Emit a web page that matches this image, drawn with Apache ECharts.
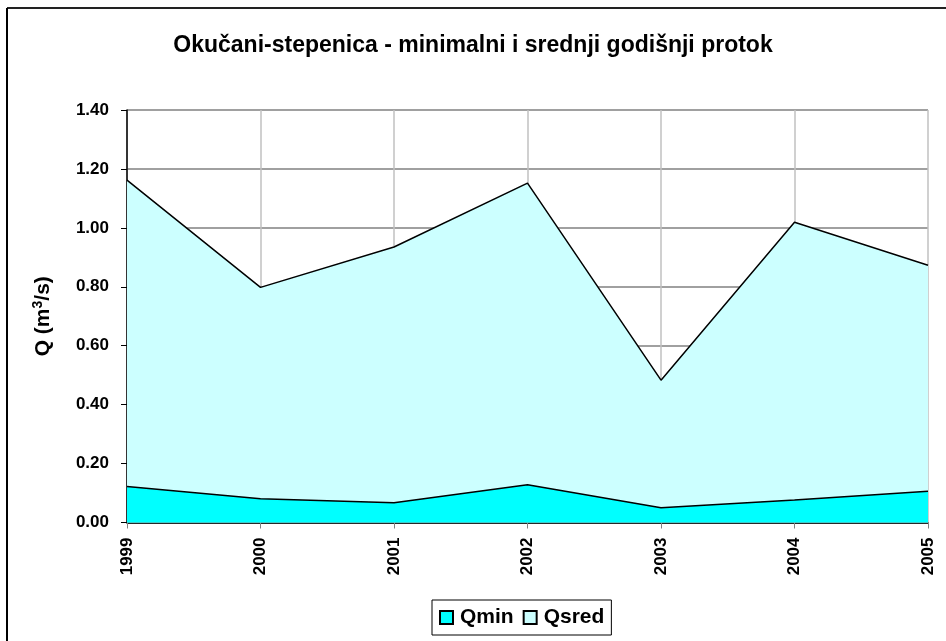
<!DOCTYPE html>
<html>
<head>
<meta charset="utf-8">
<script src="https://cdn.jsdelivr.net/npm/echarts@6/dist/echarts.min.js"></script>
<style>
  html, body { margin: 0; padding: 0; background: #fff; }
  #chart { width: 946px; height: 641px; }
</style>
</head>
<body>
<div id="chart"></div>
<script>
// godine
var years = ["1999", "2000", "2001", "2002", "2003", "2004", "2005"];
// minimalni protok
var qMin = [0.122, 0.081, 0.067, 0.128, 0.05, 0.076, 0.106];
// srednji protok
var qSred = [1.162, 0.798, 0.935, 1.152, 0.483, 1.019, 0.873];

var font = "Liberation Sans, Arial, sans-serif";
var chart = echarts.init(document.getElementById("chart"));
var option = {
  animation: false,
  backgroundColor: "#fff",
  title: {
    text: "Okučani-stepenica - minimalni i srednji godišnji protok",
    left: "center",
    top: 29,
    textStyle: { fontFamily: font, fontSize: 23, fontWeight: "bold", color: "#000" },
  },
  legend: {
    data: ["Qmin", "Qsred"],
    left: 432,
    top: 600,
    padding: [7, 7, 7, 7],
    itemGap: 9,
    itemWidth: 13,
    itemHeight: 13,
    icon: "rect",
    borderColor: "#000",
    borderWidth: 1,
    textStyle: { fontFamily: font, fontSize: 21, fontWeight: "bold", color: "#000", padding: [0, 0, 0, 2] },
  },
  grid: { left: 127, right: 18, top: 110, bottom: 118.5, containLabel: false },
  xAxis: {
    type: "category",
    data: years,
    boundaryGap: false,
    axisLine: { lineStyle: { color: "#000", width: 1.5 } },
    axisTick: { show: true, length: 6, lineStyle: { color: "#808080" } },
    axisLabel: { rotate: 90, margin: 15, fontFamily: font, fontSize: 17, fontWeight: "bold", color: "#000" },
    splitLine: { show: true, lineStyle: { color: "#c0c0c0", width: 1.5 } },
  },
  yAxis: {
    type: "value",
    min: 0,
    max: 1.4,
    interval: 0.2,
    name: "{a|Q (m}{s|3}{a|/s)}",
    nameLocation: "middle",
    nameGap: 72,
    nameTextStyle: {
      rich: {
        a: { fontFamily: font, fontSize: 21, fontWeight: "bold", color: "#000" },
        s: { fontFamily: font, fontSize: 14, fontWeight: "bold", color: "#000", verticalAlign: "top", padding: [0, 0, 10, 0] },
      },
    },
    axisLine: { show: true, lineStyle: { color: "#000", width: 1.5 } },
    axisTick: { show: true, length: 6, lineStyle: { color: "#000" } },
    axisLabel: {
      margin: 18,
      fontFamily: font,
      fontSize: 17,
      fontWeight: "bold",
      color: "#000",
      formatter: function (v) { return v.toFixed(2); },
    },
    splitLine: { show: true, lineStyle: { color: "#808080", width: 1.5 } },
  },
  series: [
    {
      name: "Qsred",
      type: "line",
      data: qSred,
      symbol: "none",
      itemStyle: { color: "#ccffff", borderColor: "#000", borderWidth: 1 },
      lineStyle: { color: "#000", width: 1.5 },
      areaStyle: { color: "#ccffff", opacity: 1 },
    },
    {
      name: "Qmin",
      type: "line",
      data: qMin,
      symbol: "none",
      itemStyle: { color: "#00ffff", borderColor: "#000", borderWidth: 1 },
      lineStyle: { color: "#000", width: 1.5 },
      areaStyle: { color: "#00ffff", opacity: 1 },
    },
  ],
  graphic: [
    { type: "line", shape: { x1: 7, y1: 8, x2: 946, y2: 8 }, style: { stroke: "#222", lineWidth: 2 } },
    { type: "line", shape: { x1: 7, y1: 8, x2: 7, y2: 641 }, style: { stroke: "#000", lineWidth: 2 } },
  ],
};
chart.setOption(option);
window.onresize = function () {
  chart.resize();
};
</script>
</body>
</html>
